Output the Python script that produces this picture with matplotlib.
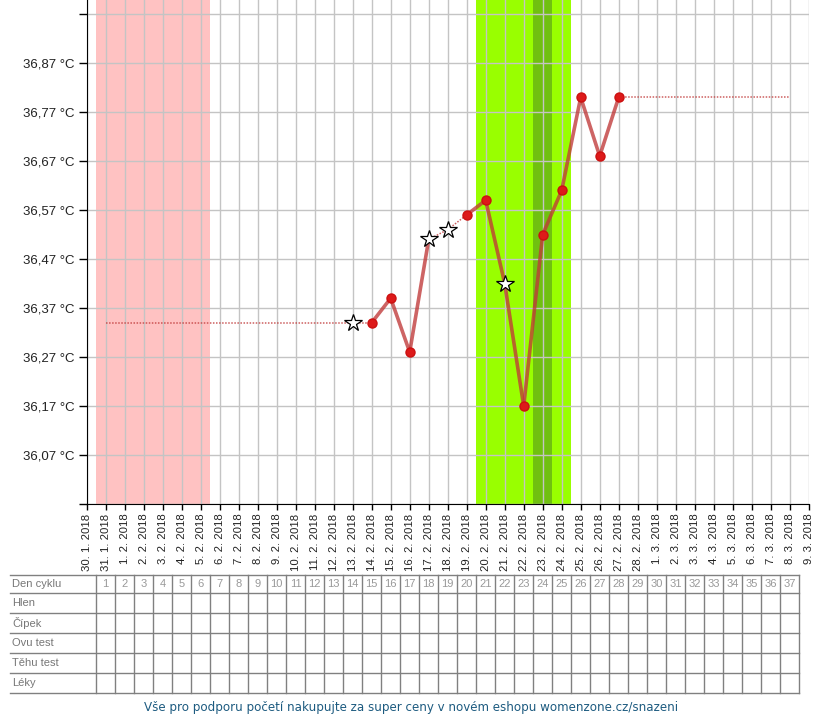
import matplotlib
matplotlib.use("Agg")
import matplotlib.pyplot as plt

# --- data ---
date_labels = ["30. 1. 2018", "31. 1. 2018", "1. 2. 2018", "2. 2. 2018", "3. 2. 2018",
               "4. 2. 2018", "5. 2. 2018", "6. 2. 2018", "7. 2. 2018", "8. 2. 2018",
               "9. 2. 2018", "10. 2. 2018", "11. 2. 2018", "12. 2. 2018", "13. 2. 2018",
               "14. 2. 2018", "15. 2. 2018", "16. 2. 2018", "17. 2. 2018", "18. 2. 2018",
               "19. 2. 2018", "20. 2. 2018", "21. 2. 2018", "22. 2. 2018", "23. 2. 2018",
               "24. 2. 2018", "25. 2. 2018", "26. 2. 2018", "27. 2. 2018", "28. 2. 2018",
               "1. 3. 2018", "2. 3. 2018", "3. 3. 2018", "4. 3. 2018", "5. 3. 2018",
               "6. 3. 2018", "7. 3. 2018", "8. 3. 2018", "9. 3. 2018"]
y_ticks = [35.97, 36.07, 36.17, 36.27, 36.37, 36.47, 36.57, 36.67, 36.77, 36.87, 36.97]
y_labels = ["", "36,07 °C", "36,17 °C", "36,27 °C", "36,37 °C", "36,47 °C",
            "36,57 °C", "36,67 °C", "36,77 °C", "36,87 °C", ""]

cycle_days = list(range(1, 38))          # cycle day n sits at date index n
meas_days = [14, 15, 16, 17, 18, 19, 20, 21, 22, 23, 24, 25, 26, 27, 28]
temps = [36.34, 36.34, 36.39, 36.28, 36.51, 36.53, 36.56, 36.59, 36.42,
         36.17, 36.52, 36.61, 36.80, 36.68, 36.80]
star_days = [14, 18, 19, 22]             # measurements drawn as stars
dotted_pairs = [(14, 15), (18, 19), (19, 20)]
menses_days = [1, 6]
fertile_days = [21, 25]
ovulation_day = 24
row_names = ["Den cyklu", "Hlen", "Čípek", "Ovu test", "Těhu test", "Léky"]
footer = "Vše pro podporu početí nakupujte za super ceny v novém eshopu womenzone.cz/snazeni"

plt.rcParams["font.family"] = ["Liberation Sans", "DejaVu Sans"]

W, H = 820, 720
fig = plt.figure(figsize=(W / 100, H / 100), dpi=100)

x0, x1 = 86.7, 808.7   # pixel positions of date index 0 and 38
ax = fig.add_axes([x0 / W, 1 - 504 / H, (x1 - x0) / W, 504 / H])
ax.set_xlim(0, 38)
ax.set_ylim(35.97, 36.9986)

# bands
ax.axvspan(menses_days[0] - 0.5, menses_days[1] + 0.5, color="#ffc2c2", lw=0, zorder=0)
ax.axvspan(fertile_days[0] - 0.5, fertile_days[1] + 0.5, color="#99ff00", lw=0, zorder=0)
ax.axvspan(ovulation_day - 0.5, ovulation_day + 0.5, color="#70c010", lw=0, zorder=0)

# grid
ax.set_xticks(range(len(date_labels)))
ax.set_xticklabels(date_labels, rotation=90, fontsize=8.2, color="#222222", va="top")
ax.set_yticks(y_ticks)
ax.set_yticklabels(y_labels, fontsize=9.5, color="#222222")
ax.grid(True, color="#c4c4c4", lw=1, zorder=1)
ax.set_axisbelow(True)
ax.tick_params(axis="y", length=6, width=1, pad=3)
ax.tick_params(axis="x", length=4, width=1, pad=3)
for s in ["top", "right"]:
    ax.spines[s].set_visible(False)

# extension lines
line_c = "#c03838"
ax.plot([1, meas_days[0]], [temps[0], temps[0]], color=line_c, lw=1.1,
        ls=(0, (1, 1)), alpha=0.8, zorder=3)
ax.plot([meas_days[-1], cycle_days[-1]], [temps[-1], temps[-1]], color=line_c, lw=1.1,
        ls=(0, (1, 1)), alpha=0.8, zorder=3)

# segments
t = dict(zip(meas_days, temps))
for a, b in zip(meas_days[:-1], meas_days[1:]):
    if (a, b) in dotted_pairs:
        ax.plot([a, b], [t[a], t[b]], color=line_c, lw=1.1, ls=(0, (1, 1)),
                alpha=0.8, zorder=3)
    else:
        ax.plot([a, b], [t[a], t[b]], color=line_c, lw=2.6, alpha=0.78,
                solid_capstyle="round", zorder=3)

dots = [d for d in meas_days if d not in star_days]
ax.plot(dots, [t[d] for d in dots], "o", color="#dd1a1a", ms=6.5, mec="#cc1010",
        ls="none", zorder=4)
ax.plot(star_days, [t[d] for d in star_days], "*", color="white", mec="black",
        mew=0.9, ms=13, ls="none", zorder=5)

# table below
tab = fig.add_axes([x0 / W, 0, (x1 - x0) / W, 1], frameon=False)
tab.set_xlim(0, 38)
tab.set_ylim(H, 0)
tab.set_xticks([])
tab.set_yticks([])
row_y = [575, 593, 613, 633, 653, 673, 693]
lab_left = (10 - x0) / 19.0
grid_c = "#808080"
for yy in row_y:
    tab.plot([lab_left, cycle_days[-1] + 0.5], [yy, yy], color=grid_c, lw=1,
             clip_on=False)
for d in [cycle_days[0] - 0.5] + [c + 0.5 for c in cycle_days]:
    tab.plot([d, d], [row_y[0], row_y[-1]], color=grid_c, lw=1, clip_on=False)
for i, name in enumerate(row_names):
    tab.text(lab_left + 0.1, (row_y[i] + row_y[i + 1]) / 2, name, fontsize=8,
             color="#777777", va="center", ha="left", clip_on=False)
for c in cycle_days:
    tab.text(c, (row_y[0] + row_y[1]) / 2, str(c), fontsize=8, color="#999999",
             va="center", ha="center")

fig.text(411 / W, 1 - 708 / H, footer, fontsize=8.6, color="#1d5b80",
         ha="center", va="center", family=["DejaVu Sans"])

fig.savefig("out.png", dpi=100)
